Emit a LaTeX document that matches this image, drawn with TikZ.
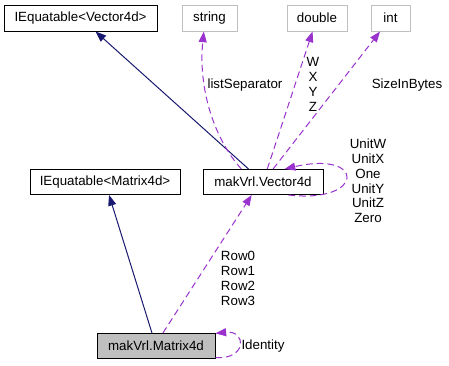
\documentclass[tikz,border=0pt]{standalone}
\usepackage{fontspec}
\setmainfont{Liberation Sans}
\usepackage{xcolor}
\usetikzlibrary{arrows.meta}

\definecolor{navyedge}{HTML}{191970}
\definecolor{orchidedge}{HTML}{9A32CD}
\definecolor{boxgray}{HTML}{BFBFBF}

\begin{document}
\begin{tikzpicture}[x=0.75pt, y=-0.75pt,
  font=\fontsize{10}{11.1}\selectfont,
  box/.style={draw, fill=white, line width=0.75pt, inner sep=0pt,
              minimum height=18.75pt},
  extbox/.style={box, draw=boxgray},
  curbox/.style={box, fill=boxgray},
  inherit/.style={navyedge, line width=0.75pt,
                  -{Triangle[length=8pt, width=6pt]}},
  member/.style={orchidedge, line width=0.75pt, dash pattern=on 5pt off 3pt,
                 -{Triangle[length=8pt, width=6pt]}},
  lbl/.style={align=center, inner sep=0pt}]

  \useasboundingbox (0,0) rectangle (449,365);

  %% Classes
  \node[box, minimum width=114.75pt, minimum height=19.5pt] (ieqv) at (80.5,18) {IEquatable<Vector4d>};
  \node[extbox, minimum width=41.25pt, minimum height=19.5pt] (str) at (209.5,18) {string};
  \node[extbox, minimum width=45pt, minimum height=19.5pt] (dbl) at (317,18) {double};
  \node[extbox, minimum width=29.25pt, minimum height=19.5pt] (int) at (390.5,18) {int};
  \node[box, minimum width=90pt] (vec) at (263,182) {makVrl.Vector4d};
  \node[box, minimum width=112.5pt] (ieqm) at (105,182) {IEquatable<Matrix4d>};
  \node[curbox, minimum width=88.5pt] (mat) at (156,346) {makVrl.Matrix4d};

  %% Inheritance
  \draw[inherit] (vec) -- (ieqv);
  \draw[inherit] (mat) -- (ieqm);

  %% Members
  \draw[member] (vec.149) .. controls (215,140) and (198,90) .. (str.-113);
  \draw[member] (vec) -- (dbl);
  \draw[member] (vec) -- (int);
  \draw[member] (vec.-27) .. controls (365,204) and (366,150) .. (vec.31);
  \draw[member] (mat.62) -- (vec.-131);
  \draw[member] (mat.-11) .. controls (247,360) and (247,330) .. (mat.12);

  %% Member labels
  \node[lbl] (lsep) at (245,85) {listSeparator};
  \node[lbl] (wxyz) at (313,84.5) {W\\X\\Y\\Z};
  \node[lbl] (size) at (407,85) {SizeInBytes};
  \node[lbl] (units) at (368,181) {UnitW\\UnitX\\One\\UnitY\\UnitZ\\Zero};
  \node[lbl] (rows) at (238,278.5) {Row0\\Row1\\Row2\\Row3};
  \node[lbl] (ident) at (263,346) {Identity};

\end{tikzpicture}
\end{document}
